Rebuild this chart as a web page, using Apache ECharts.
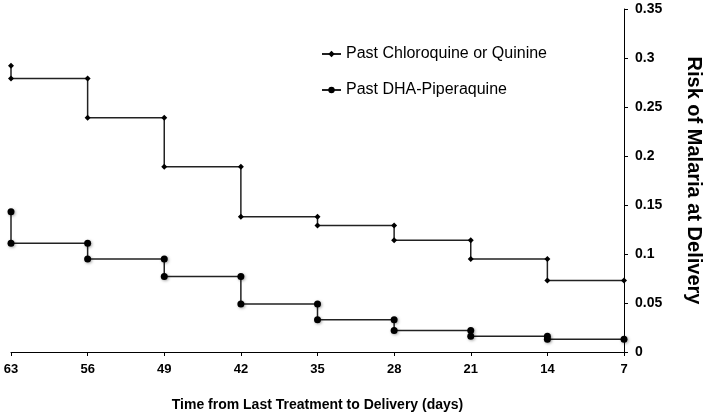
<!DOCTYPE html>
<html>
<head>
<meta charset="utf-8">
<script src="https://cdn.jsdelivr.net/npm/echarts@6/dist/echarts.min.js"></script>
<style>
    html, body { margin: 0; padding: 0; background: #fff; }
    #main { width: 706px; height: 416px; }
</style>
</head>
<body>
<div id="main"></div>
<script>
    // days since last treatment (x axis runs from 63 down to 7)
    var days = [63, 56, 49, 42, 35, 28, 21, 14, 7];
    // risk level at each step
    var cqLevels = [0.292, 0.279, 0.239, 0.189, 0.138, 0.129, 0.114, 0.095, 0.073];
    var dhaLevels = [0.143, 0.111, 0.095, 0.077, 0.049, 0.033, 0.022, 0.016, 0.013];
    var seriesNames = ['Past Chloroquine or Quinine', 'Past DHA-Piperaquine'];

    // step path: drop at each day from level i to level i+1, then run to the next day
    function stepPoints(levels) {
        var pts = [];
        for (var i = 0; i < days.length - 1; i++) {
            pts.push([days[i], levels[i]]);
            pts.push([days[i], levels[i + 1]]);
        }
        pts.push([days[days.length - 1], levels[levels.length - 1]]);
        return pts;
    }

    var chart = echarts.init(document.getElementById('main'));
    chart.setOption({
        animation: false,
        textStyle: { fontFamily: 'Liberation Sans, Arial, sans-serif' },
        grid: { left: 11, right: 82, top: 9, bottom: 64, outerBoundsMode: 'none' },
        legend: {
            orient: 'vertical',
            left: 316,
            top: 41,
            itemGap: 20,
            itemWidth: 19,
            itemHeight: 8,
            textStyle: { color: '#000', fontSize: 16 },
            data: seriesNames
        },
        xAxis: {
            type: 'value',
            inverse: true,
            min: 7,
            max: 63,
            interval: 7,
            splitLine: { show: false },
            axisLine: { lineStyle: { color: '#000', width: 1 } },
            axisTick: { lineStyle: { color: '#000' }, length: 4 },
            axisLabel: { color: '#000', fontWeight: 'bold', fontSize: 13, margin: 11 },
            name: 'Time from Last Treatment to Delivery (days)',
            nameLocation: 'middle',
            nameGap: 46,
            nameTextStyle: { color: '#000', fontWeight: 'bold', fontSize: 14 }
        },
        yAxis: {
            type: 'value',
            position: 'right',
            min: 0,
            max: 0.35,
            interval: 0.05,
            splitLine: { show: false },
            axisLine: { show: true, lineStyle: { color: '#000', width: 1 } },
            axisTick: { show: true, lineStyle: { color: '#000' }, length: 4 },
            axisLabel: { color: '#000', fontWeight: 'bold', fontSize: 14, margin: 11 },
            name: 'Risk of Malaria at Delivery',
            nameLocation: 'middle',
            nameRotate: -90,
            nameGap: 60,
            nameTextStyle: { color: '#000', fontWeight: 'bold', fontSize: 20 }
        },
        series: [{
            name: seriesNames[0],
            type: 'line',
            data: stepPoints(cqLevels),
            symbol: 'diamond',
            symbolSize: 6,
            itemStyle: { color: '#000' },
            lineStyle: { color: '#222', width: 1.5 }
        }, {
            name: seriesNames[1],
            type: 'line',
            data: stepPoints(dhaLevels),
            symbol: 'circle',
            symbolSize: 7,
            itemStyle: { color: '#000', shadowColor: 'rgba(0,0,0,0.35)', shadowBlur: 3, shadowOffsetX: 1, shadowOffsetY: 1 },
            lineStyle: { color: '#222', width: 1.5 }
        }]
    });
</script>
</body>
</html>
